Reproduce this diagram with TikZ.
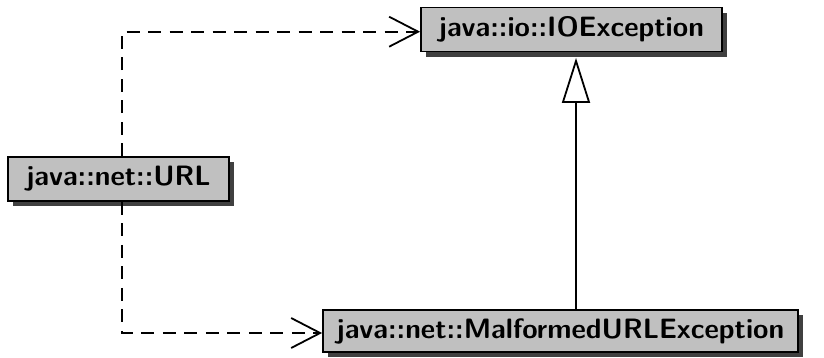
\documentclass[tikz,border=0pt]{standalone}
\usepackage{fontspec}
\usetikzlibrary{arrows.meta,shadows,calc}
\definecolor{boxfill}{RGB}{192,192,192}
\definecolor{boxshadow}{RGB}{64,64,64}
\begin{document}
\begin{tikzpicture}[x=1pt,y=-1pt,
  classbox/.style={draw=black,line width=1.8pt,fill=boxfill,
    font=\sffamily\bfseries\fontsize{28}{30}\selectfont,
    inner sep=0pt,anchor=center,
    drop shadow={shadow xshift=5pt,shadow yshift=-5pt,fill=boxshadow,opacity=1}},
  dep/.style={line width=1.8pt,dash pattern=on 13pt off 8.5pt,
    -{Straight Barb[length=29pt,width=30pt,line width=1.8pt]}},
  inherit/.style={line width=1.8pt,
    -{Triangle[open,length=45pt,width=28pt,line width=1.8pt,fill=white]}}]
  \useasboundingbox (0,0) rectangle (824,357);
  \node[classbox,minimum width=301pt,minimum height=44pt] (io) at (571.5,29.5) {java::io::IOException};
  \node[classbox,minimum width=221pt,minimum height=44pt] (url) at (118.5,179) {java::net::URL};
  \node[classbox,minimum width=475pt,minimum height=42pt] (mal) at (560.5,331) {java::net::MalformedURLException};
  \coordinate (urltop) at ($(url.north)+(3.5,0)$);
  \coordinate (urlbot) at ($(url.south)+(3.5,0)$);
  \coordinate (ioin) at ($(io.west)+(0,2.2)$);
  \coordinate (malin) at ($(mal.west)+(0,2)$);
  \coordinate (iobase) at ($(io.south)+(4.5,5.5)$);
  \coordinate (maltop) at ($(mal.north)+(15.5,0)$);
  \draw[dep] (urltop) |- (ioin);
  \draw[dep] (urlbot) |- (malin);
  \draw[inherit] (maltop) -- (iobase);
\end{tikzpicture}
\end{document}
